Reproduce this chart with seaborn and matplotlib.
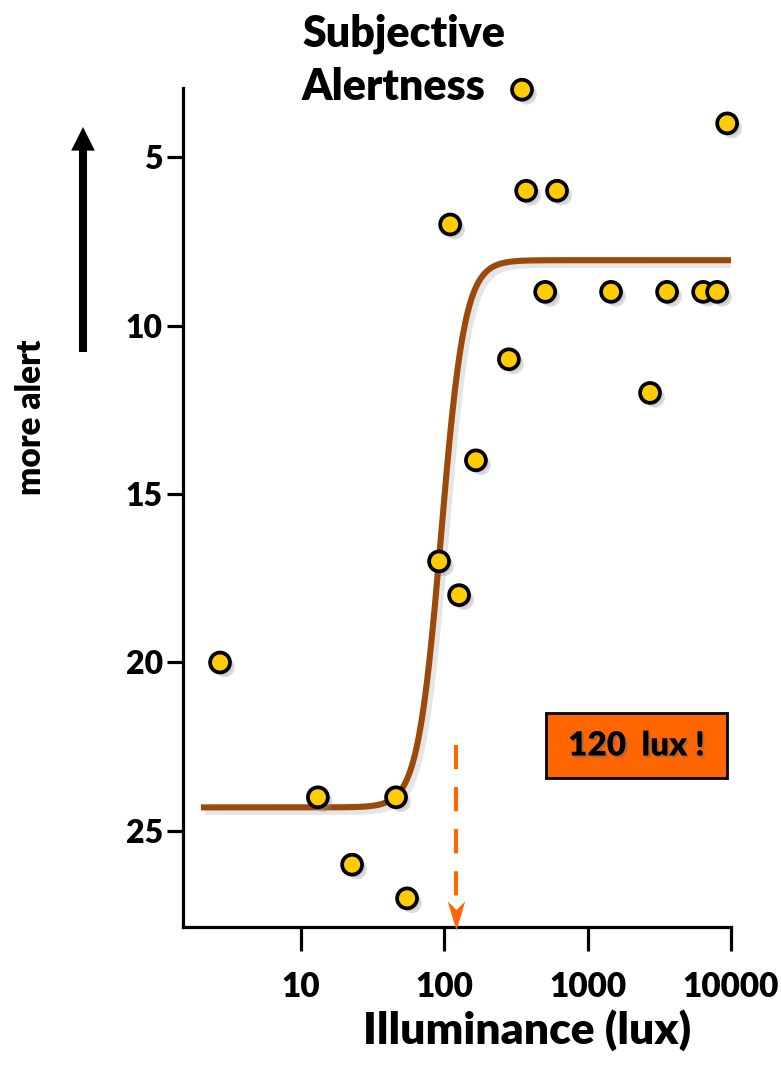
import numpy as np
import pandas as pd
import matplotlib
matplotlib.use("Agg")
import matplotlib.pyplot as plt
import matplotlib.patheffects as pe
from matplotlib.patches import FancyArrowPatch, Rectangle
from matplotlib.path import Path
import seaborn as sns

# Individual measurements: illuminance (lux) vs. subjective alertness score
lux = [2.72, 13.1, 22.7, 46.0, 54.9, 91.8, 109.7, 126.6, 166, 282,
       348, 372, 505, 611, 1455, 2723, 3580, 6385, 8000, 9400]
score = [20, 24, 26, 24, 27, 17, 7, 18, 14, 11,
         3, 6, 9, 6, 9, 12, 9, 9, 9, 4]

# Sigmoid (Hill) fit parameters
fit_bottom = 24.3
fit_top = 8.06
fit_ec50 = 95.0
fit_slope = 5.3
fit_range = (2.0, 10000.0)

threshold_lux = 120
threshold_label = "120  lux !"

x_ticks = [10, 100, 1000, 10000]
x_ticklabels = ["10", "100", "1000", "10000"]
y_ticks = [5, 10, 15, 20, 25]

title_lines = ["Subjective", "Alertness"]
x_label = "Illuminance (lux)"
side_label = "more alert"

POINT_FACE = "#FFCC00"
CURVE = "#9C4A0B"
ORANGE = "#FF6600"
WEIGHT = "heavy"

sns.set_style("white")
plt.rcParams["font.family"] = ["Lato", "DejaVu Sans"]
plt.rcParams["font.weight"] = WEIGHT
plt.rcParams["text.color"] = "black"
plt.rcParams["xtick.color"] = "black"
plt.rcParams["ytick.color"] = "black"

W, H = 781, 1087
fig = plt.figure(figsize=(W / 100, H / 100), dpi=100)
ax = fig.add_axes([183 / W, 1 - 927 / H, (731 - 183) / W, (927 - 88) / H])

# fitted curve
xs = np.logspace(np.log10(fit_range[0]), np.log10(fit_range[1]), 400)
ys = fit_bottom + (fit_top - fit_bottom) * xs**fit_slope / (xs**fit_slope + fit_ec50**fit_slope)
curve_df = pd.DataFrame({"lux": xs, "score": ys})
sns.lineplot(data=curve_df, x="lux", y="score", color=CURVE, linewidth=4.4,
             ax=ax, zorder=2, estimator=None, sort=False)
ax.lines[-1].set_path_effects([
    pe.SimpleLineShadow(offset=(3, -3), shadow_color="0.6", alpha=0.25, linewidth=5),
    pe.Normal()])
ax.lines[-1].set_solid_capstyle("butt")

# data points
pts = pd.DataFrame({"lux": lux, "score": score})
sns.scatterplot(data=pts, x="lux", y="score", s=205, color=POINT_FACE,
                edgecolor="black", linewidth=2.7, ax=ax, zorder=4, legend=False,
                clip_on=False)
ax.collections[-1].set_path_effects([
    pe.SimplePatchShadow(offset=(3.5, -3.5), shadow_rgbFace="0.55", alpha=0.3),
    pe.SimplePatchShadow(offset=(2, -2), shadow_rgbFace="0.6", alpha=0.25),
    pe.Normal()])

ax.set_xscale("log")
ax.set_xlim(1.50, 10000)
ax.set_ylim(27.85, 2.95)
ax.set_xticks(x_ticks)
ax.set_xticklabels(x_ticklabels)
ax.xaxis.set_minor_locator(matplotlib.ticker.NullLocator())
ax.set_yticks(y_ticks)
ax.set_xlabel("")
ax.set_ylabel("")

for side in ("top", "right"):
    ax.spines[side].set_visible(False)
for side in ("left", "bottom"):
    ax.spines[side].set_linewidth(2.3)
    ax.spines[side].set_color("black")
ax.tick_params(axis="x", direction="out", length=17, width=2.3, pad=15,
               labelsize=24, colors="black", bottom=True)
ax.tick_params(axis="y", direction="out", length=11.5, width=2.3, pad=3,
               labelsize=23, colors="black", left=True)
for lab in ax.get_xticklabels() + ax.get_yticklabels():
    lab.set_fontweight(WEIGHT)

# dashed threshold arrow
ax.plot([threshold_lux, threshold_lux], [22.45, 27.0], color=ORANGE,
        linewidth=3, dashes=(5.8, 4.3), zorder=3, solid_capstyle="butt")
head = Path([(0, 0), (-0.3, 1.0), (0, 0.7), (0.3, 1.0), (0, 0)],
            [Path.MOVETO, Path.LINETO, Path.LINETO, Path.LINETO, Path.CLOSEPOLY])
ax.plot([threshold_lux], [27.95], marker=head, markersize=42, color=ORANGE,
        markeredgewidth=0, clip_on=False, zorder=5, linestyle="none")

# labelled box
box = Rectangle((0.662, 0.1776), 0.331, 0.0775, transform=ax.transAxes,
                facecolor=ORANGE, edgecolor="black", linewidth=2, zorder=5)
ax.add_patch(box)
ax.text(0.8275, 0.2163, threshold_label, transform=ax.transAxes, ha="center",
        va="center", fontsize=24, fontweight=WEIGHT, color="black", zorder=6,
        path_effects=[pe.withSimplePatchShadow(offset=(1.5, -1.5),
                                               shadow_rgbFace="0.4", alpha=0.5)])

# titles and labels
fig.text(302 / W, 1 - 47 / H, title_lines[0], ha="left", va="baseline",
         fontsize=31, fontweight=WEIGHT)
fig.text(302 / W, 1 - 100 / H, title_lines[1], ha="left", va="baseline",
         fontsize=31, fontweight=WEIGHT)
fig.text(527 / W, 1 - 1030 / H, x_label, ha="center", va="center",
         fontsize=32, fontweight=WEIGHT)
fig.text(31 / W, 1 - 417 / H, side_label, ha="center", va="center",
         rotation=90, fontsize=24, fontweight=WEIGHT)

# upward arrow beside the axis
arrow = FancyArrowPatch((83 / W, 1 - 352 / H), (83 / W, 1 - 127 / H),
                        transform=fig.transFigure,
                        arrowstyle="simple,head_length=0.85,head_width=0.85,tail_width=0.29",
                        mutation_scale=20, facecolor="black", edgecolor="none",
                        shrinkA=0, shrinkB=0)
fig.add_artist(arrow)

fig.savefig("out.png", dpi=100)
